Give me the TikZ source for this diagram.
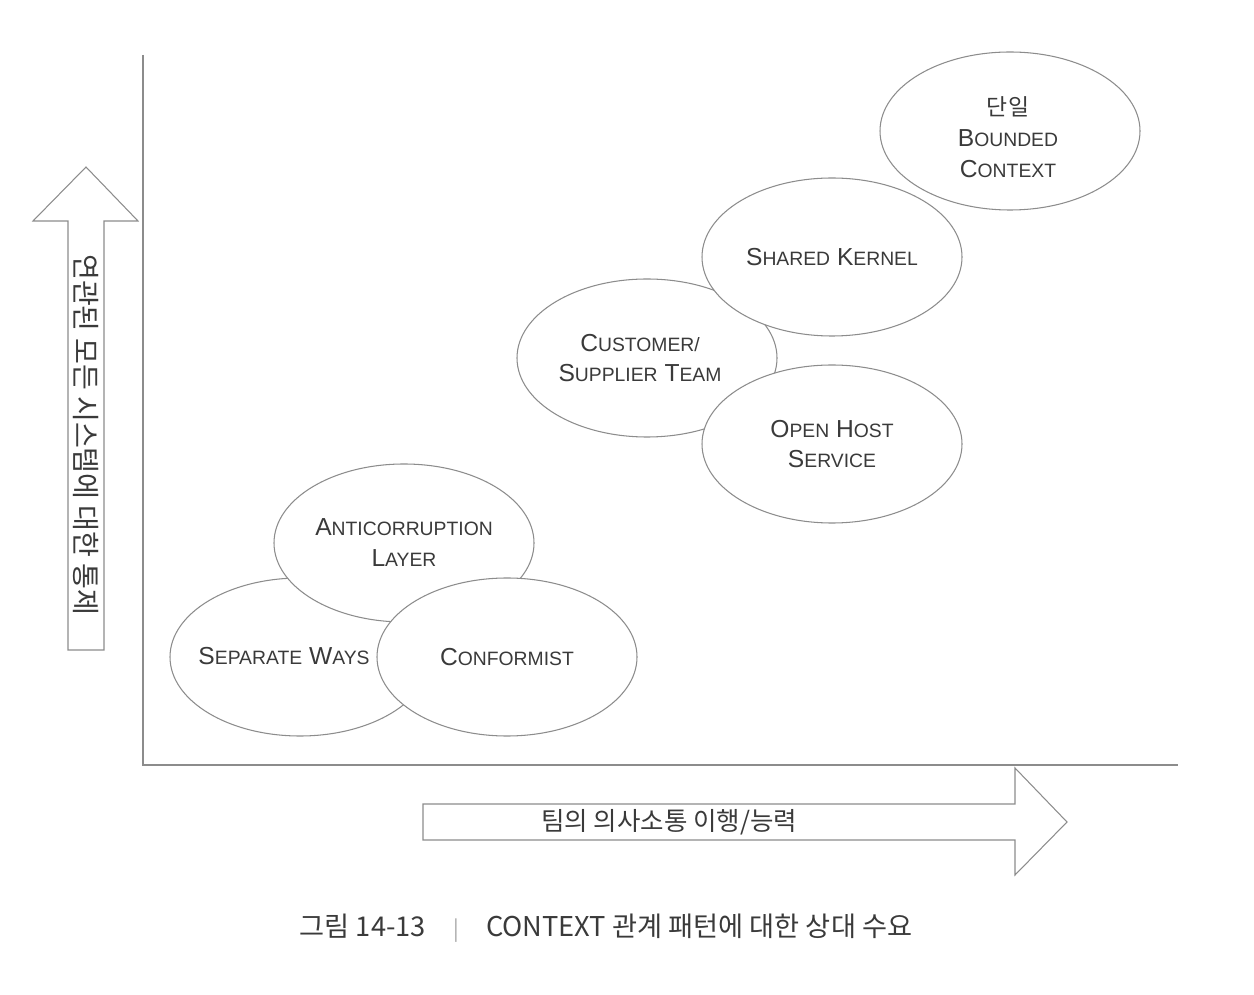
\documentclass[tikz,border=0pt]{standalone}
\usepackage{fontspec}
\setmainfont{Liberation Sans}
\newfontfamily\kr{Noto Sans CJK KR}
\usetikzlibrary{shapes.geometric}
\definecolor{ink}{HTML}{3A3A3A}
\definecolor{rim}{HTML}{8C8C8C}
\newcommand{\SC}[2]{{\fontsize{14}{18}\selectfont #1}{\fontsize{11}{18}\selectfont #2}}

\begin{document}
\begin{tikzpicture}[
  pat/.style={ellipse, draw=rim, line width=0.6pt, fill=white, minimum width=5.2cm, minimum height=3.16cm, inner sep=0pt, align=center, text=ink, font=\fontsize{14}{17.6}\selectfont},
  lbl/.style={align=center, text=ink, font=\fontsize{14}{17.6}\selectfont},
  axis/.style={draw=rim, line width=0.6pt},
  axislbl/.style={text=ink, font=\kr\fontsize{14.5}{17}\selectfont},
  capt/.style={text=ink, font=\kr\fontsize{15.5}{18}\selectfont}
]
\useasboundingbox (0,0) rectangle (25.08,19.88);
%\draw[step=1cm,gray,very thin] (0,0) grid (25,19); %grid lines

% axes
\coordinate (ytop) at (2.86,18.78);
\coordinate (o) at (2.86,4.58);
\coordinate (xend) at (23.56,4.58);
\draw[axis] (ytop) -- (o) -- (xend);

% up arrow
\draw[axis] (1.36,6.88) -- (1.36,15.46) -- (0.66,15.46) -- (1.72,16.54) -- (2.76,15.46) -- (2.08,15.46) -- (2.08,6.88) -- cycle;
\draw node[axislbl, rotate=-90, font=\kr\fontsize{16}{18}\selectfont] (ylab) at (1.72,11.18) {연관된 모든 시스템에 대한 통제};

% right arrow
\draw[axis] (8.46,3.80) -- (20.3,3.80) -- (20.3,4.52) -- (21.34,3.44) -- (20.3,2.38) -- (20.3,3.08) -- (8.46,3.08) -- cycle;
\draw node[axislbl] (xlab) at (13.38,3.44) {팀의 의사소통 이행/능력};

% upper group
\draw node[pat] (bc) at (20.2,17.26) {};
\draw node[lbl] (bctxt) at (20.16,17.14) {{\kr\fontsize{13}{17}\selectfont 단일}\\\SC{B}{OUNDED}\\\SC{C}{ONTEXT}};
\draw node[pat] (cs) at (12.94,12.72) {};
\draw node[lbl] (cstxt) at (12.8,12.72) {\SC{C}{USTOMER/}\\\SC{S}{UPPLIER} \SC{T}{EAM}};
\draw node[pat] (sk) at (16.64,14.74) {\SC{S}{HARED} \SC{K}{ERNEL}};
\draw node[pat] (oh) at (16.64,11.0) {\SC{O}{PEN} \SC{H}{OST}\\\SC{S}{ERVICE}};

% lower group
\draw node[pat] (sw) at (6.0,6.74) {};
\draw node[lbl] (swtxt) at (5.68,6.76) {\SC{S}{EPARATE} \SC{W}{AYS}};
\draw node[pat] (acl) at (8.08,9.02) {\SC{A}{NTICORRUPTION}\\\SC{L}{AYER}};
\draw node[pat] (cf) at (10.14,6.74) {\SC{C}{ONFORMIST}};

% caption
\draw node[capt] (cap) at (12.12,1.32) {그림 14-13\quad{\color{gray!70}\fontsize{12}{14}\selectfont|}\quad CONTEXT 관계 패턴에 대한 상대 수요};
\end{tikzpicture}
\end{document}
